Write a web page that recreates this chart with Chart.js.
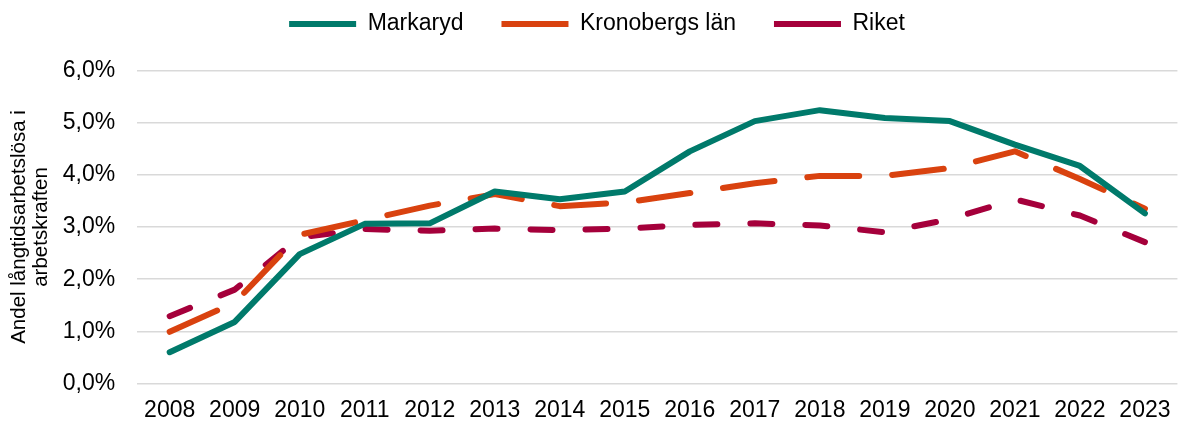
<!DOCTYPE html>
<html>
<head>
<meta charset="utf-8">
<script src="https://cdn.jsdelivr.net/npm/chart.js@4"></script>
<style>
    html, body { margin: 0; padding: 0; background: #FFFFFF; }
    #wrap { width: 1186px; height: 423px; }
</style>
</head>
<body>
<div id="wrap"><canvas id="chart"></canvas></div>
<script>
const years = ['2008', '2009', '2010', '2011', '2012', '2013', '2014', '2015', '2016', '2017', '2018', '2019', '2020', '2021', '2022', '2023'];
const markaryd = [0.60, 1.18, 2.48, 3.06, 3.07, 3.68, 3.53, 3.68, 4.45, 5.03, 5.24, 5.09, 5.03, 4.58, 4.17, 3.26];
const kronoberg = [0.99, 1.55, 2.85, 3.13, 3.41, 3.63, 3.40, 3.47, 3.65, 3.84, 3.98, 3.98, 4.13, 4.45, 3.92, 3.35];
const riket = [1.29, 1.80, 2.80, 2.96, 2.93, 2.97, 2.94, 2.97, 3.04, 3.07, 3.03, 2.90, 3.15, 3.53, 3.22, 2.71];
const yTitle = ['Andel långtidsarbetslösa i', 'arbetskraften'];

Chart.defaults.font.family = "'Liberation Sans', Arial, sans-serif";
Chart.defaults.color = '#000000';

const lineSettings = {
    borderWidth: 6,
    pointRadius: 0,
    pointHoverRadius: 0,
    tension: 0,
    fill: false,
    borderCapStyle: 'round',
    borderJoinStyle: 'round'
};

// extra room between legend and plot area
const legendGap = {
    id: 'legendGap',
    beforeInit(chart) {
        const fit = chart.legend.fit;
        chart.legend.fit = function() {
            fit.bind(chart.legend)();
            this.height += 25;
        };
    }
};

const chart = new Chart(document.getElementById('chart'), {
    type: 'line',
    data: {
        labels: years,
        datasets: [
            Object.assign({}, lineSettings, {label: 'Markaryd', data: markaryd, borderColor: '#007A6B', backgroundColor: '#007A6B'}),
            Object.assign({}, lineSettings, {label: 'Kronobergs län', data: kronoberg, borderColor: '#D9420F', backgroundColor: '#D9420F', borderDash: [52, 33]}),
            Object.assign({}, lineSettings, {label: 'Riket', data: riket, borderColor: '#A5003B', backgroundColor: '#A5003B', borderDash: [22, 33]})
        ]
    },
    plugins: [legendGap],
    options: {
        responsive: true,
        maintainAspectRatio: false,
        animation: false,
        layout: {padding: {left: 8, right: 0, top: -25.5, bottom: -14.5}},
        plugins: {
            legend: {
                position: 'top',
                labels: {
                    usePointStyle: true,
                    pointStyle: 'line',
                    pointStyleWidth: 67,
                    padding: 38,
                    font: {size: 23, lineHeight: 1.0}
                }
            },
            tooltip: {enabled: false}
        },
        scales: {
            x: {
                offset: true,
                grid: {display: false, drawTicks: false},
                border: {display: false},
                ticks: {font: {size: 23, lineHeight: 1.0}, padding: 15.5, maxRotation: 0, autoSkip: false}
            },
            y: {
                min: 0,
                max: 6,
                grid: {color: '#D9D9D9', lineWidth: 1.5, drawTicks: false},
                border: {display: false},
                ticks: {
                    stepSize: 1,
                    font: {size: 23, lineHeight: 1.0},
                    padding: 22,
                    callback: (v) => v.toFixed(1).replace('.', ',') + '%'
                },
                title: {display: true, text: yTitle, font: {size: 20.5, lineHeight: 1.05}, padding: {top: 1, bottom: -11.3}}
            }
        }
    }
});
</script>
</body>
</html>
